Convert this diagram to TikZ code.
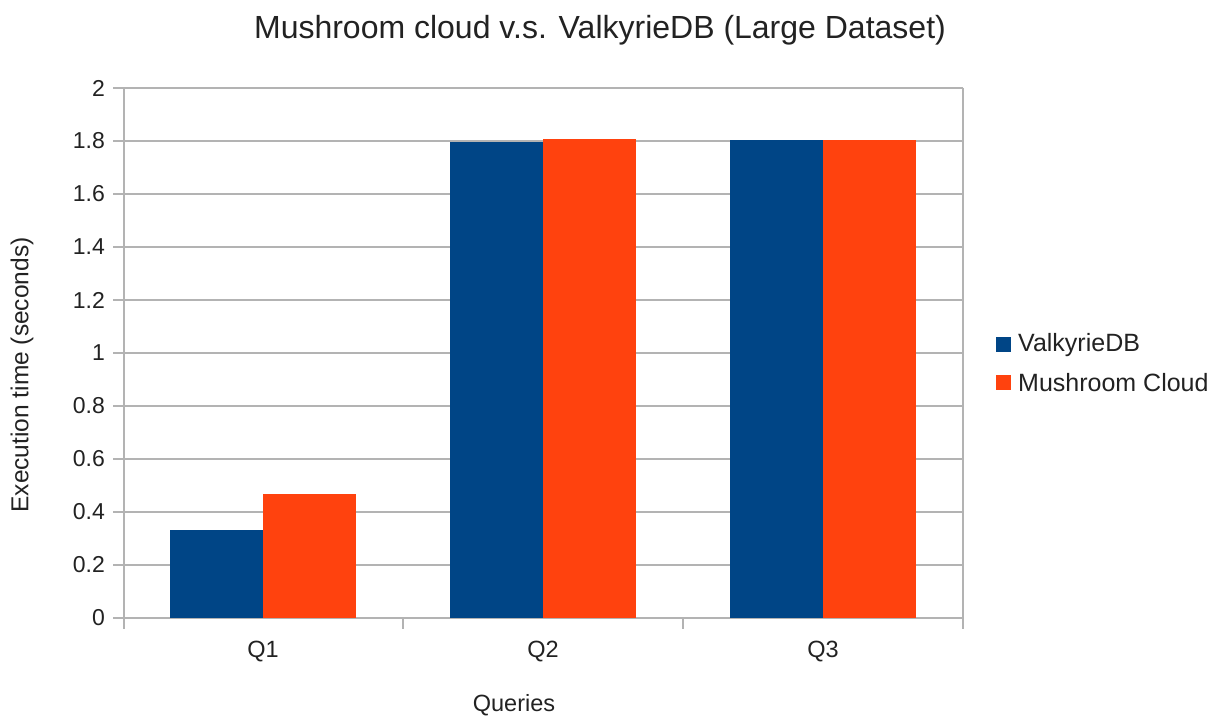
\documentclass[tikz,border=0pt]{standalone}
\usepackage{fontspec}
\setmainfont{Liberation Sans}
\definecolor{valk}{HTML}{004586}
\definecolor{mush}{HTML}{FF420E}
\definecolor{gridc}{HTML}{B3B3B3}
\definecolor{txt}{HTML}{222222}
\begin{document}
\begin{tikzpicture}[x=1pt,y=-1pt,
  gridline/.style={draw=gridc,line width=1.6pt},
  ticklab/.style={anchor=east,inner sep=0pt,text=txt,font=\fontsize{23}{27}\selectfont},
  catlab/.style={inner sep=0pt,text=txt,font=\fontsize{23.5}{28}\selectfont},
  axislab/.style={inner sep=0pt,text=txt,font=\fontsize{23.5}{28}\selectfont},
  ylablab/.style={inner sep=0pt,text=txt,font=\fontsize{24.5}{29}\selectfont},
  legendlab/.style={anchor=west,inner sep=0pt,text=txt,font=\fontsize{25}{30}\selectfont},
  titlelab/.style={inner sep=0pt,text=txt,font=\fontsize{32}{38}\selectfont},
  barA/.style={fill=valk},
  barB/.style={fill=mush}]
\useasboundingbox (0,0) rectangle (1216,719);
\fill[white] (0,0) rectangle (1216,719);

% horizontal grid lines and value labels (0 at y=618, 2 at y=88)
\foreach \i/\t in {0/0,1/0.2,2/0.4,3/0.6,4/0.8,5/1,6/1.2,7/1.4,8/1.6,9/1.8,10/2}{
  \draw[gridline] (113,{618-53*\i}) -- (963,{618-53*\i});
  \node[ticklab] (yt\i) at (105,{618-53*\i}) {\t};
}
% axis frame and category ticks
\draw[gridline] (124,88) -- (124,629);
\draw[gridline] (963,88) -- (963,618);
\foreach \x in {403,683,963}{
  \draw[gridline] (\x,618) -- (\x,629);
}

% bars: category offset, ValkyrieDB value, Mushroom Cloud value
\foreach \x/\a/\b in {170/0.332/0.468, 450/1.796/1.808, 730/1.804/1.804}{
  \fill[barA] (\x,618) rectangle ({\x+92.5},{618-265*\a});
  \fill[barB] ({\x+92.5},618) rectangle ({\x+185.5},{618-265*\b});
}

% category labels
\node[catlab] (q1) at (263,652) {Q1};
\node[catlab] (q2) at (543,652) {Q2};
\node[catlab] (q3) at (823,652) {Q3};

% axis titles
\node[axislab] (xlab) at (514,705) {Queries};
\node[ylablab,rotate=90] (ylab) at (22,375) {Execution time (seconds)};

% chart title
\node[titlelab] (title) at (600,30) {Mushroom cloud v.s. ValkyrieDB (Large Dataset)};

% legend
\fill[barA] (996,337.5) rectangle (1011,352.5);
\node[legendlab] (lgA) at (1018,345) {ValkyrieDB};
\fill[barB] (996,375) rectangle (1011,390);
\node[legendlab] (lgB) at (1018,382.5) {Mushroom Cloud};
\end{tikzpicture}
\end{document}
